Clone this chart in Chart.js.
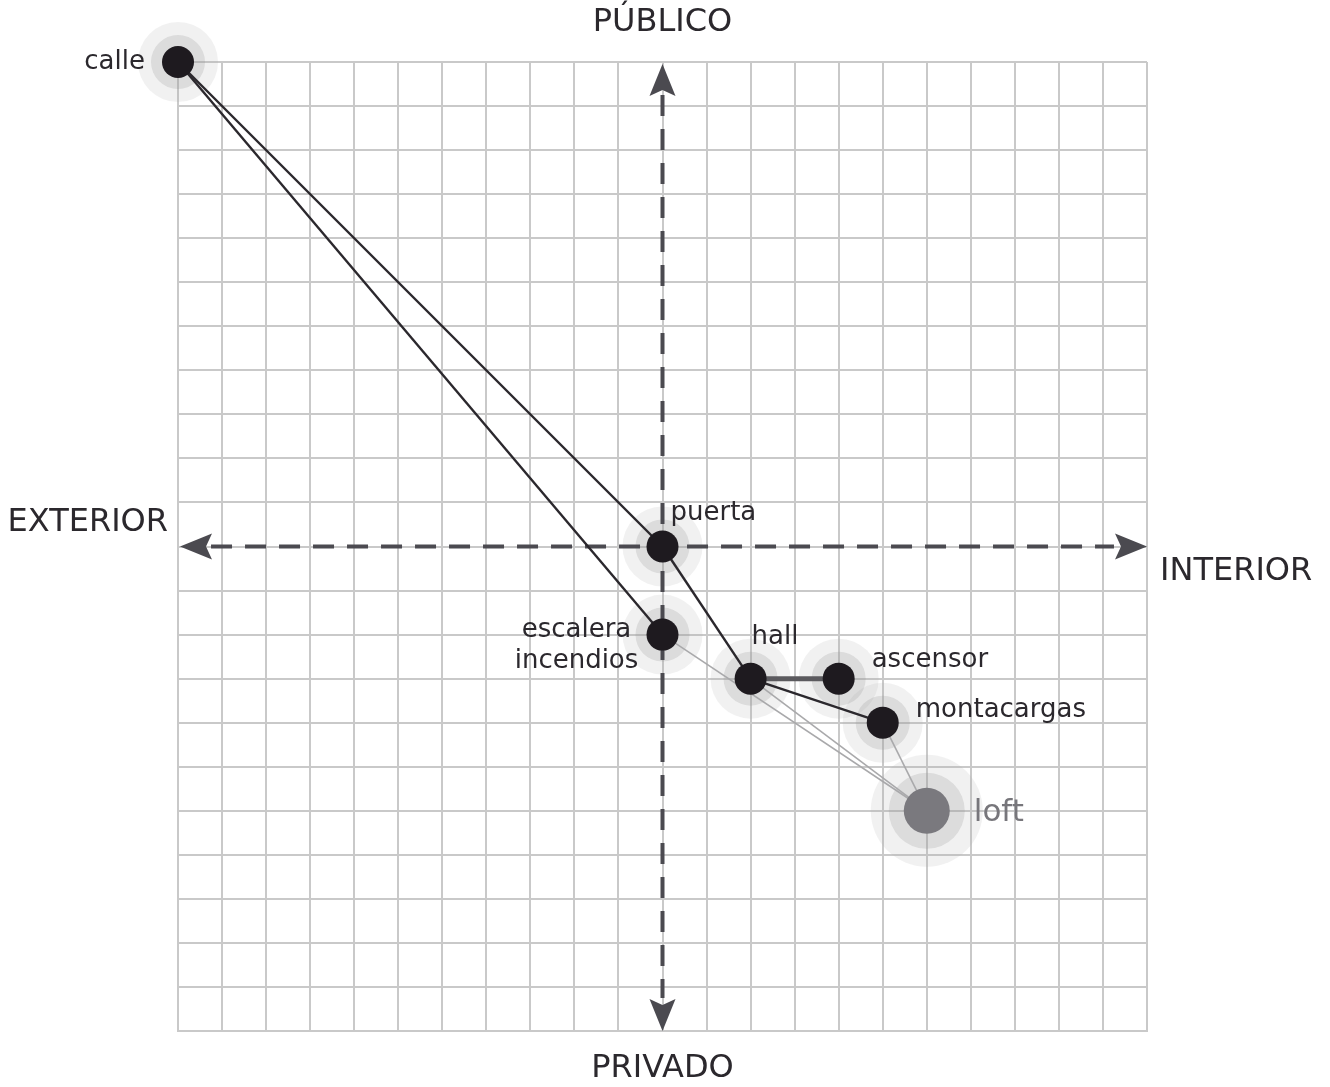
<!DOCTYPE html>
<html>
<head>
<meta charset="utf-8">
<script src="https://cdn.jsdelivr.net/npm/chart.js@4"></script>
<style>
  html,body{margin:0;padding:0;background:#fff}
  #wrap{width:1330px;height:1087px;position:relative}
</style>
</head>
<body>
<div id="wrap"><canvas id="grafico"></canvas></div>
<script>
// espacios: posicion exterior(-)/interior(+) y privado(-)/publico(+)
const nombres = ['calle','puerta','escalera\nincendios','hall','ascensor','montacargas','loft'];
const posX = [-11, 0, 0, 2, 4, 5, 6];
const posY = [11, 0, -2, -3, -3, -4, -6];
// conexiones [desde, hasta, tipo]  tipo 1 = fuerte, 2 = doble, 0 = debil
const enlaces = [[0,1,1],[0,2,1],[1,3,1],[3,4,2],[3,5,1],[5,6,0],[3,6,0],[2,6,0]];
const ejeMin = -11, ejeMax = 11;
const ejes = {arriba:'PÚBLICO', abajo:'PRIVADO', izq:'EXTERIOR', der:'INTERIOR'};

const FONT = '"DejaVu Sans", sans-serif';
const pts = posX.map((x,i)=>({x, y:posY[i]}));
const esLoft = i => i === nombres.length-1;

const ds = [];
// nucleo (arriba del todo)
ds.push({type:'scatter', data:pts, clip:false, pointRadius:pts.map((p,i)=>esLoft(i)?23:16),
  pointBackgroundColor:pts.map((p,i)=>esLoft(i)?'#7a797e':'#1e1a1f'), pointBorderWidth:0, pointHoverRadius:0});
enlaces.forEach(([a,b,t])=>{
  ds.push({type:'line', data:[pts[a],pts[b]], clip:false, showLine:true, pointRadius:0,
    borderColor: t===0?'#a9a9ab':(t===2?'#5b5a5e':'#2b282d'),
    borderWidth: t===0?1.6:(t===2?5:2.4)});
});
// ejes punteados
ds.push({type:'line', data:[{x:ejeMin+0.75,y:0},{x:ejeMax-0.75,y:0}], showLine:true, pointRadius:0,
  borderColor:'#4b4a50', borderWidth:4, borderDash:[21,13]});
ds.push({type:'line', data:[{x:0,y:ejeMax-0.75},{x:0,y:ejeMin+0.75}], showLine:true, pointRadius:0,
  borderColor:'#4b4a50', borderWidth:4, borderDash:[21,13]});
// halos
ds.push({type:'scatter', data:pts, clip:false, pointRadius:pts.map((p,i)=>esLoft(i)?38:27),
  pointBackgroundColor:'rgba(150,150,150,0.24)', pointBorderWidth:0, pointHoverRadius:0});
ds.push({type:'scatter', data:pts, clip:false, pointRadius:pts.map((p,i)=>esLoft(i)?56:40),
  pointBackgroundColor:'rgba(170,170,170,0.17)', pointBorderWidth:0, pointHoverRadius:0});

const offs = [
  {dx:-33, dy:0, al:'right'},
  {dx:8, dy:-33, al:'left'},
  {dx:-86, dy:-4, al:'center'},
  {dx:1, dy:-41, al:'left'},
  {dx:33, dy:-18, al:'left'},
  {dx:33, dy:-12, al:'left'},
  {dx:47, dy:2, al:'left'}
];

const etiquetas = {
  id:'etiquetas',
  afterDatasetsDraw(chart){
    const c = chart.ctx, sx = chart.scales.x, sy = chart.scales.y;
    c.save();
    // flechas
    c.fillStyle = '#4b4a50';
    const flecha = (tx,ty,ang)=>{
      c.save(); c.translate(tx,ty); c.rotate(ang);
      c.beginPath(); c.moveTo(0,0); c.lineTo(-32,-13); c.lineTo(-26,0); c.lineTo(-32,13); c.closePath(); c.fill();
      c.restore();
    };
    const x0 = sx.getPixelForValue(0), y0 = sy.getPixelForValue(0);
    flecha(sx.getPixelForValue(ejeMax), y0, 0);
    flecha(sx.getPixelForValue(ejeMin)+2, y0, Math.PI);
    flecha(x0, sy.getPixelForValue(ejeMax)+2, -Math.PI/2);
    flecha(x0, sy.getPixelForValue(ejeMin), Math.PI/2);
    // nombres de ejes
    c.fillStyle = '#2b282d';
    c.font = '400 32px ' + FONT;
    c.textBaseline = 'middle';
    c.textAlign = 'center';
    c.fillText(ejes.arriba, x0, 23);
    c.fillText(ejes.abajo, x0, 1069);
    c.textAlign = 'right';
    c.fillText(ejes.izq, 168, 523);
    c.textAlign = 'left';
    c.fillText(ejes.der, 1160, 572);
    // nombres de espacios
    nombres.forEach((n,i)=>{
      const px = sx.getPixelForValue(posX[i]), py = sy.getPixelForValue(posY[i]);
      const o = offs[i];
      c.textAlign = o.al;
      c.font = (esLoft(i)?'31px ':'26px ') + FONT;
      c.fillStyle = esLoft(i)?'#77767b':'#2b282d';
      n.split('\n').forEach((l,k)=>c.fillText(l, px+o.dx, py+o.dy+k*31));
    });
    c.restore();
  }
};

new Chart(grafico,{
  type:'scatter',
  data:{datasets:ds},
  options:{
    responsive:true, maintainAspectRatio:false, animation:false,
    layout:{padding:{left:178, right:183, top:62, bottom:56}},
    plugins:{legend:{display:false}, tooltip:{enabled:false}},
    events:[],
    scales:{
      x:{type:'linear', min:ejeMin, max:ejeMax,
        ticks:{display:false, stepSize:1},
        grid:{color:'#c9c9c9', lineWidth:2, drawTicks:false},
        border:{color:'#c9c9c9', width:2}},
      y:{type:'linear', min:ejeMin, max:ejeMax,
        ticks:{display:false, stepSize:1},
        grid:{color:'#c9c9c9', lineWidth:2, drawTicks:false},
        border:{color:'#c9c9c9', width:2}}
    }
  },
  plugins:[etiquetas]
});
</script>
</body>
</html>
